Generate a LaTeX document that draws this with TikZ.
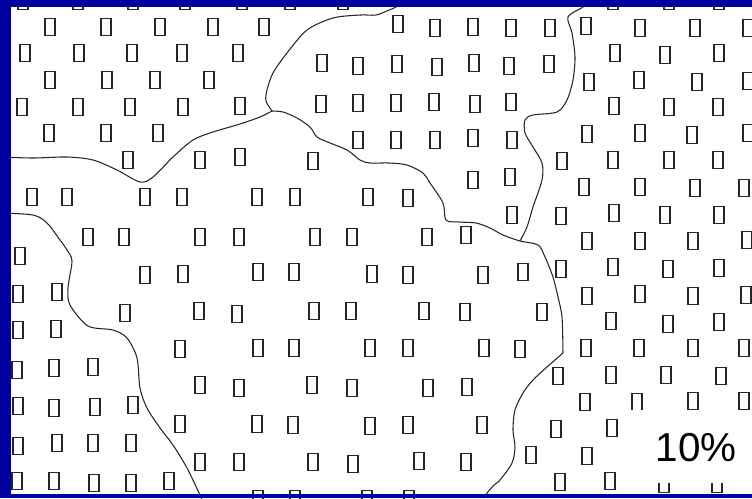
\documentclass[tikz,border=0pt]{standalone}
\usepackage{fontspec}
\setmainfont{Liberation Sans}
\definecolor{slideblue}{RGB}{0,0,160}
\begin{document}
\begin{tikzpicture}[x=0.02cm, y=-0.02cm,
    cell/.style={draw=black!85, line width=0.65pt},
    seam/.style={draw=black!85, line width=0.6pt},
    pct/.style={inner sep=0pt, font=\fontsize{23}{27}\selectfont}]
    \useasboundingbox (0,0) rectangle (752,498);
    \clip (0,0) rectangle (752,498);
    \fill[white] (0,0) rectangle (752,498);

    % Cells along the top edge
    \foreach \x/\y in {23/1, 78/1, 133/1, 185/1, 242/1, 290/1, 343/1, 613/1, 669/1, 719/1}
        \draw[cell] (\x,\y) ++(-5,-8.5) rectangle ++(10,17);

    % Top-left patch
    \foreach \x/\y in {50/27, 106/27, 160/27, 213/27, 264/27,
                       25/53, 79/53, 132/53, 182/53, 238/53,
                       50/80, 107/80, 155/80, 209/80,
                       22/107, 78/107, 130/107, 183/107, 240/106,
                       49/133, 106/133, 158/133}
        \draw[cell] (\x,\y) ++(-5,-8.5) rectangle ++(10,17);

    % Top-middle patch
    \foreach \x/\y in {322/63, 358/66, 321/104, 358/103, 358/140,
                       398/24, 435/28, 473/27, 511/28, 550/28,
                       397/64, 437/67, 474/63, 509/66, 549/64,
                       396/103, 434/102, 475/104, 511/102,
                       396/140, 435/140, 473/138, 512/140,
                       473/180, 510/177}
        \draw[cell] (\x,\y) ++(-5,-8.5) rectangle ++(10,17);

    % Right patch
    \foreach \x/\y in {586/26, 640/28, 695/28, 748/28,
                       615/53, 665/55, 719/53,
                       589/82, 639/80, 697/82, 748/81,
                       614/106, 669/107, 718/107,
                       587/134, 640/133, 692/135, 748/133,
                       562/161, 613/160, 669/160, 718/160,
                       584/187, 640/187, 695/188, 744/188,
                       561/216, 614/213, 665/215, 719/215,
                       587/241, 640/241, 693/241, 747/240,
                       561/269, 613/267, 668/269, 719/268,
                       587/296, 640/294, 693/296, 746/295,
                       611/321, 668/324, 719/322,
                       586/348, 639/348, 693/348, 744/348,
                       558/376, 611/375, 666/375, 721/376,
                       585/402, 637/402, 693/401, 744/401,
                       556/429, 612/428,
                       531/455, 587/456,
                       560/482, 610/481, 664/484, 717/484}
        \draw[cell] (\x,\y) ++(-5,-8.5) rectangle ++(10,17);

    % Middle patch
    \foreach \x/\y in {128/160, 200/160, 240/157, 313/161,
                       32/197, 67/197, 145/197, 182/197, 257/197, 295/197, 368/197, 408/198,
                       88/237, 124/237, 200/237, 239/237, 315/237, 352/237, 427/237, 466/235, 512/215,
                       145/275, 183/274, 258/272, 294/272, 372/274, 408/275, 483/275, 523/272,
                       125/313, 199/311, 237/314, 314/311, 351/311, 424/311, 465/312, 542/312,
                       180/349, 258/348, 294/348, 370/348, 408/348, 484/348, 520/349,
                       200/385, 239/388, 312/385, 352/388, 428/388, 467/387,
                       180/424, 257/424, 293/425, 370/426, 408/425, 482/425,
                       200/462, 239/462, 313/462, 353/464, 419/461, 466/462,
                       258/499, 295/499, 367/499, 409/499}
        \draw[cell] (\x,\y) ++(-5,-8.5) rectangle ++(10,17);

    % Bottom-left patch
    \foreach \x/\y in {20/256,
                       18/294, 57/292,
                       18/330, 56/329,
                       17/370, 54/368, 93/367,
                       18/406, 54/408, 95/407, 133/405,
                       18/446, 57/443, 93/443, 131/443,
                       17/481, 54/481, 94/483, 131/483, 169/481}
        \draw[cell] (\x,\y) ++(-5,-8.5) rectangle ++(10,17);

    % Patch borders
    \draw[seam] plot[smooth, tension=0.5] coordinates {(0,157) (33,158) (67,157) (93,160) (117,170) (140,182) (153,177) (173,157) (193,140) (213,132) (240,124) (260,117) (272,111)};
    \draw[seam] plot[smooth, tension=0.5] coordinates {(272,111) (266,101) (267,90) (273,73) (287,53) (307,30) (333,18) (360,15) (376,15) (389,10) (396,7) (404,0)};
    \draw[seam] plot[smooth, tension=0.5] coordinates {(272,111) (283,112) (297,118) (310,127) (317,137) (330,143) (347,150) (360,160) (370,163) (389,163) (407,165) (423,173) (430,183) (443,203) (446,220) (459,222) (476,223) (490,228) (503,235) (520,241) (538,245) (545,257) (553,277) (558,297) (562,317) (563,353)};
    \draw[seam] plot[smooth, tension=0.5] coordinates {(563,353) (547,367) (533,380) (523,393) (515,410) (513,430) (515,447) (512,463) (500,480) (493,486) (483,498)};
    \draw[seam] plot[smooth, tension=0.5] coordinates {(590,0) (583,7) (568,17) (572,33) (575,57) (573,80) (567,100) (557,112) (533,115) (525,120) (525,133) (533,147) (542,163) (542,180) (533,207) (527,227) (520,241)};
    \draw[seam] plot[smooth, tension=0.5] coordinates {(0,213) (33,215) (47,223) (60,240) (67,250) (72,261) (68,288) (70,305) (88,326) (113,330) (127,338) (137,358) (140,388) (147,408) (160,428) (173,445) (187,468) (200,495) (202,500)};

    % Label
    \fill[white] (624,410) rectangle (752,483);
    \node[pct] (share) at (696,448) {10\%};

    % Slide frame
    \fill[slideblue] (0,0) rectangle (752,7);
    \fill[slideblue] (0,0) rectangle (11,498);
    \fill[slideblue] (0,494) rectangle (752,498);
\end{tikzpicture}
\end{document}
